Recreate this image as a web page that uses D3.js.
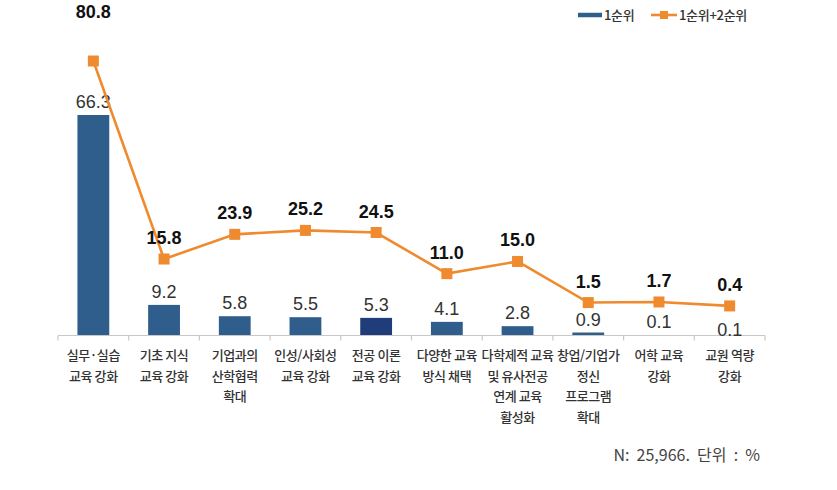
<!DOCTYPE html>
<html><head><meta charset="utf-8">
<script src="https://cdn.jsdelivr.net/npm/d3@7"></script>
<style>
body{margin:0;background:#fff;}
svg{display:block;}
</style></head>
<body>
<svg id="chart" width="837" height="490"></svg>
<script>
const categories = [
  ["실무·실습","교육 강화"],
  ["기초 지식","교육 강화"],
  ["기업과의","산학협력","확대"],
  ["인성/사회성","교육 강화"],
  ["전공 이론","교육 강화"],
  ["다양한 교육","방식 채택"],
  ["다학제적 교육","및 유사전공","연계 교육","활성화"],
  ["창업/기업가","정신","프로그램","확대"],
  ["어학 교육","강화"],
  ["교원 역량","강화"]
];
const rank1 = [66.3, 9.2, 5.8, 5.5, 5.3, 4.1, 2.8, 0.9, 0.1, 0.1];
const rank12 = [80.8, 15.8, 23.9, 25.2, 24.5, 11.0, 15.0, 1.5, 1.7, 0.4];
const seriesNames = ["1순위", "1순위+2순위"];
const footnote = "N:  25,966.  단위  :  %";

const svg = d3.select("#chart");
const baseY = 335.5;
const numFont = "'Liberation Sans', Arial, sans-serif";
const krFont = "'Noto Sans CJK KR', 'Noto Sans', sans-serif";
const barColor = "#2f5d8c";
const barColorDark = "#1f3d78";
const orange = "#ef8a2e";

const x = d3.scaleBand().domain(d3.range(categories.length)).range([58, 765]).paddingInner(0.55).paddingOuter(0.275);
const yBar = d3.scaleLinear().domain([0, 70]).range([baseY, 102.7]);
const yLine = d3.scaleLinear().domain([-10, 90]).range([337.6, 33]);

// bars
svg.append("g").selectAll("rect").data(rank1).join("rect")
  .attr("x", (d,i) => x(i))
  .attr("width", x.bandwidth())
  .attr("y", d => yBar(d))
  .attr("height", d => baseY - yBar(d))
  .attr("fill", (d,i) => i === 4 ? barColorDark : barColor);

// axis
const edges = d3.range(categories.length + 1).map(i => 58 + i * x.step());
const axisG = svg.append("g");
axisG.append("line").attr("x1", 58).attr("x2", 765).attr("y1", baseY).attr("y2", baseY)
  .attr("stroke", "#c8c8c8").attr("stroke-width", 1.2);
axisG.selectAll("line.tick").data(edges).join("line").attr("class","tick")
  .attr("x1", d => d).attr("x2", d => d).attr("y1", baseY).attr("y2", baseY + 5)
  .attr("stroke", "#c8c8c8").attr("stroke-width", 1.2);

// bar labels
svg.append("g").selectAll("text").data(rank1).join("text")
  .attr("x", (d,i) => x(i) + x.bandwidth()/2)
  .attr("y", (d,i) => Math.min(yBar(d), baseY) - 7 + (i === rank1.length - 1 ? 8 : 0))
  .attr("text-anchor", "middle")
  .attr("font-family", numFont).attr("font-size", 18).attr("fill", "#333")
  .text(d => d.toFixed(1));

// line
const cx = i => x(i) + x.bandwidth()/2;
const line = d3.line().x((d,i) => cx(i)).y(d => yLine(d));
svg.append("path").datum(rank12).attr("d", line)
  .attr("fill", "none").attr("stroke", orange).attr("stroke-width", 2.6);
svg.append("g").selectAll("rect").data(rank12).join("rect")
  .attr("x", (d,i) => cx(i) - 5.5).attr("y", d => yLine(d) - 5.5)
  .attr("width", 11).attr("height", 11).attr("fill", orange);

// line labels
svg.append("g").selectAll("text").data(rank12).join("text")
  .attr("x", (d,i) => cx(i))
  .attr("y", (d,i) => yLine(d) - (i === 0 ? 43 : 15))
  .attr("text-anchor", "middle")
  .attr("font-family", numFont).attr("font-size", 18).attr("font-weight", "bold").attr("fill", "#111")
  .text(d => d.toFixed(1));

// category labels
const catG = svg.append("g");
categories.forEach((lines, i) => {
  const t = catG.append("text")
    .attr("x", cx(i)).attr("y", 360)
    .attr("text-anchor", "middle")
    .attr("font-family", krFont).attr("font-size", 13).attr("font-weight", 500)
    .attr("letter-spacing", -0.4).attr("fill", "#333");
  lines.forEach((ln, j) => {
    t.append("tspan").attr("x", cx(i)).attr("y", 360 + j * 20.5).text(ln);
  });
});

// legend
const lg = svg.append("g");
lg.append("line").attr("x1", 578).attr("x2", 602).attr("y1", 15).attr("y2", 15)
  .attr("stroke", barColor).attr("stroke-width", 4.5);
lg.append("text").attr("x", 604).attr("y", 20).attr("font-family", krFont)
  .attr("font-size", 13).attr("font-weight", 500).attr("letter-spacing", -0.3).attr("fill", "#333").text(seriesNames[0]);
lg.append("line").attr("x1", 651).attr("x2", 677).attr("y1", 15).attr("y2", 15)
  .attr("stroke", orange).attr("stroke-width", 2.6);
lg.append("rect").attr("x", 660).attr("y", 11).attr("width", 8).attr("height", 8).attr("fill", orange);
lg.append("text").attr("x", 679).attr("y", 20).attr("font-family", krFont)
  .attr("font-size", 13).attr("font-weight", 500).attr("letter-spacing", -0.3).attr("fill", "#333").text(seriesNames[1]);

// footnote
svg.append("text").attr("x", 760).attr("y", 461).attr("text-anchor", "end")
  .attr("xml:space", "preserve").style("white-space", "pre")
  .attr("font-family", krFont).attr("font-size", 16).attr("fill", "#444").text(footnote);
</script>
</body></html>
